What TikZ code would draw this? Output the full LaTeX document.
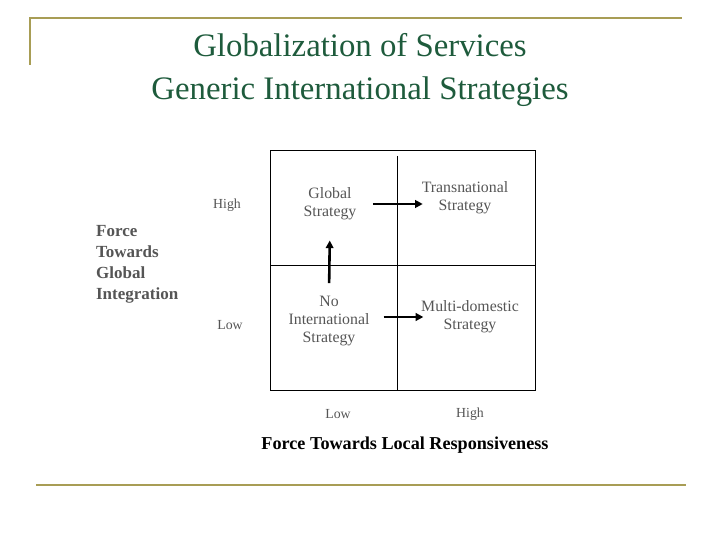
\documentclass[tikz,border=0pt]{standalone}
\usepackage{fontspec}
\setmainfont{Liberation Serif}
\usetikzlibrary{arrows.meta}
\definecolor{olive}{HTML}{A89D55}
\definecolor{titlegreen}{HTML}{1E5B3C}
\definecolor{celltext}{HTML}{555555}
\tikzset{
  cell/.style={align=center,text=celltext,font=\fontsize{13.5}{15.7}\selectfont,inner sep=1pt},
  tick/.style={text=celltext,font=\fontsize{11.8}{13}\selectfont},
  push/.style={line width=2.2pt,-{Triangle[length=6.5pt,width=6.5pt]}}
}
\begin{document}
\begin{tikzpicture}[x=0.03cm,y=-0.03cm]
  \useasboundingbox (0,0) rectangle (720,540);
  % frame lines
  \draw[olive,line width=2pt] (30,65) -- (30,18) -- (682,18);
  \draw[olive,line width=2.5pt] (36,485) -- (686,485);
  % title
  \node[titlegreen,align=center,font=\fontsize{28}{37.5}\selectfont] (title) at (360,70)
    {Globalization of Services\\Generic International Strategies};
  % grid
  \draw[line width=0.6pt] (270,150) rectangle (535,390);
  \draw[line width=0.6pt] (270,265) -- (535,265);
  \draw[line width=0.6pt] (397,156) -- (397,390);
  % cells
  \node[cell] (gs) at (330,204) {Global\\Strategy};
  \node[cell] (ts) at (465,198) {Transnational\\Strategy};
  \node[cell] (ni) at (329,321) {No\\International\\Strategy};
  \node[cell] (md) at (470,317) {Multi-domestic\\Strategy};
  % arrows
  \draw[push,shorten <=13pt,shorten >=-2pt] (gs.east) -- (gs.east -| ts.west);
  \draw[push,shorten <=9.5pt,shorten >=16pt] (ni.north) -- (gs.south);
  \draw[push,shorten <=11pt,shorten >=-3pt] (ni.east |- md.west) -- (md.west);
  % axis ticks
  \node[tick] (yhigh) at (227,205) {High};
  \node[tick] (ylow) at (230,325) {Low};
  \node[tick] (xlow) at (338,414) {Low};
  \node[tick] (xhigh) at (470,414) {High};
  % axis labels
  \node[text=celltext,align=left,anchor=west,font=\bfseries\fontsize{14.5}{18}\selectfont] (yaxis) at (92,264)
    {Force\\Towards\\Global\\Integration};
  \node[font=\bfseries\fontsize{15.5}{18}\selectfont] (xaxis) at (405,445) {Force Towards Local Responsiveness};
\end{tikzpicture}
\end{document}
